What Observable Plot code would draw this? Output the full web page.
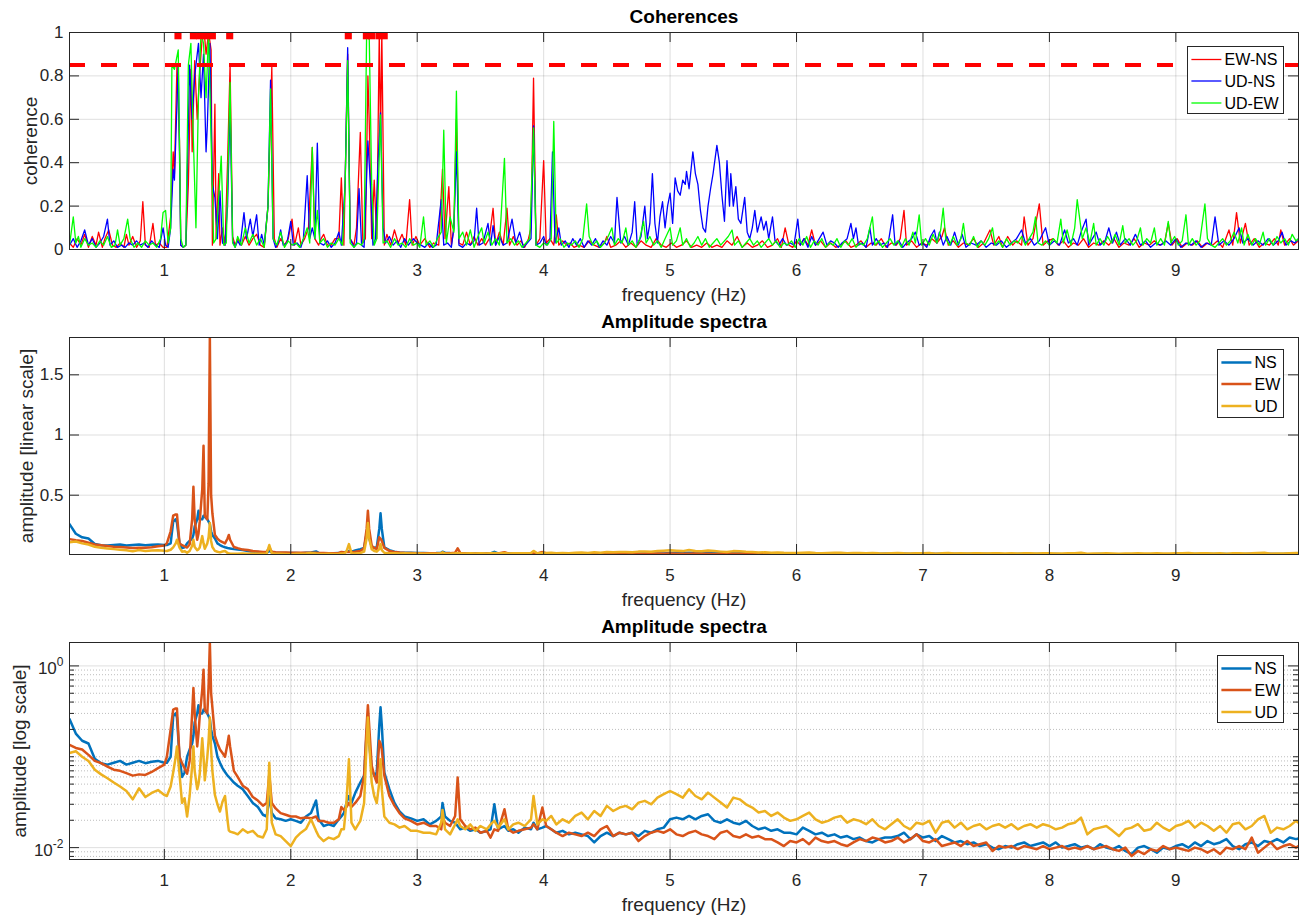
<!DOCTYPE html>
<html>
<head>
<meta charset="utf-8">
<script src="https://cdn.jsdelivr.net/npm/d3@7"></script>
<script src="https://cdn.jsdelivr.net/npm/@observablehq/plot@0.6"></script>
<style>
html,body{margin:0;padding:0;background:#fff;overflow:hidden;}
#wrap{position:relative;width:1303px;height:915px;font-family:"Liberation Sans",Arial,Helvetica,sans-serif;}
</style>
</head>
<body>
<div id="wrap"></div>
<script>
// ---------- axes / ticks ----------
const xTicks = [1,2,3,4,5,6,7,8,9];
const xDomain = [0.25, 9.97];
const cohTicks = [0,0.2,0.4,0.6,0.8,1];
const linTicks = [0.5,1,1.5];
const logMajor = [0.01,1];
const logMinor = [0.008,0.009,0.02,0.03,0.04,0.05,0.06,0.07,0.08,0.09,0.1,0.2,0.3,0.4,0.5,0.6,0.7,0.8,0.9];
const ampDomain = [0.0074,1.81];

// ---------- coherence panel ----------
const cohLabels = ["EW-NS","UD-NS","UD-EW"];
const cohColors = ["#ff0000","#0000ff","#00ff00"];
const cohThreshold = 0.85;
const cohMarkerFreq = [1.108,1.23,1.28,1.33,1.38,1.517,2.455,2.598,2.638,2.697,2.739];
const cohMarkerLevel = 0.985;

const cohEWNS = [[0.25,0.03],[0.28,0.01],[0.31,0.05],[0.34,0.02],[0.37,0.07],[0.4,0.01],[0.43,0.06],[0.46,0.02],[0.48,0.08],[0.51,0.01],[0.53,0.05],[0.56,0.09],[0.59,0.02],[0.62,0.01],[0.65,0.03],[0.68,0.01],[0.7,0.07],[0.72,0.02],[0.75,0.06],[0.78,0.01],[0.81,0.04],[0.83,0.22],[0.85,0.02],[0.88,0.01],[0.91,0.12],[0.93,0.02],[0.96,0.03],[0.99,0.01],[1.02,0.01],[1.05,0.15],[1.07,0.45],[1.08,0.35],[1.1,0.85],[1.12,0.5],[1.13,0.02],[1.15,0.01],[1.17,0.02],[1.19,0.3],[1.21,0.83],[1.22,0.45],[1.24,0.87],[1.26,0.6],[1.28,0.82],[1.3,0.98],[1.32,0.97],[1.33,0.9],[1.35,1],[1.37,0.92],[1.38,0.02],[1.4,0.67],[1.41,0.05],[1.43,0.35],[1.44,0.02],[1.46,0.1],[1.48,0.02],[1.5,0.4],[1.52,0.85],[1.54,0.06],[1.56,0.02],[1.58,0.05],[1.61,0.02],[1.64,0.06],[1.67,0.02],[1.7,0.05],[1.73,0.07],[1.76,0.02],[1.79,0.01],[1.82,0.2],[1.85,0.84],[1.87,0.05],[1.89,0.01],[1.92,0.05],[1.95,0.02],[1.98,0.05],[2.01,0.14],[2.03,0.02],[2.06,0.1],[2.08,0.02],[2.11,0.05],[2.14,0.1],[2.17,0.47],[2.19,0.05],[2.22,0.02],[2.24,0.05],[2.26,0.07],[2.29,0.02],[2.32,0.02],[2.35,0.05],[2.38,0.05],[2.4,0.33],[2.42,0.02],[2.45,0.9],[2.47,0.05],[2.5,0.02],[2.52,0.1],[2.55,0.54],[2.57,0.03],[2.59,0.05],[2.61,0.8],[2.62,0.6],[2.64,0.05],[2.66,0.32],[2.68,0.05],[2.7,1],[2.71,0.5],[2.72,1],[2.74,0.02],[2.76,0.07],[2.79,0.02],[2.82,0.09],[2.85,0.03],[2.88,0.07],[2.91,0.02],[2.94,0.23],[2.96,0.02],[2.99,0.06],[3.02,0.02],[3.06,0.05],[3.1,0.01],[3.13,0.03],[3.17,0.02],[3.2,0.37],[3.22,0.05],[3.25,0.29],[3.27,0.02],[3.29,0.1],[3.31,0.6],[3.33,0.03],[3.36,0.02],[3.39,0.08],[3.42,0.02],[3.45,0.06],[3.48,0.02],[3.51,0.05],[3.54,0.02],[3.57,0.05],[3.6,0.19],[3.62,0.02],[3.65,0.08],[3.68,0.02],[3.71,0.19],[3.73,0.02],[3.76,0.06],[3.79,0.02],[3.82,0.04],[3.85,0.01],[3.88,0.05],[3.9,0.1],[3.92,0.79],[3.94,0.02],[3.97,0.05],[4,0.41],[4.02,0.03],[4.05,0.05],[4.08,0.02],[4.1,0.16],[4.12,0.02],[4.15,0.04],[4.18,0.02],[4.21,0.03],[4.24,0.01],[4.28,0.02],[4.32,0.01],[4.36,0.04],[4.4,0.02],[4.44,0.01],[4.48,0.03],[4.5,0.06],[4.53,0.01],[4.57,0.02],[4.61,0.04],[4.65,0.01],[4.69,0.03],[4.73,0.01],[4.77,0.04],[4.81,0.02],[4.85,0.01],[4.89,0.05],[4.93,0.02],[4.97,0.01],[5.01,0.03],[5.05,0.01],[5.09,0.02],[5.13,0.04],[5.17,0.01],[5.21,0.02],[5.25,0.01],[5.29,0.03],[5.33,0.01],[5.37,0.02],[5.41,0.01],[5.45,0.04],[5.49,0.02],[5.53,0.06],[5.57,0.01],[5.61,0.03],[5.65,0.01],[5.69,0.02],[5.73,0.04],[5.77,0.01],[5.81,0.02],[5.85,0.05],[5.88,0.01],[5.91,0.1],[5.94,0.02],[5.97,0.01],[6,0.04],[6.03,0.02],[6.06,0.05],[6.09,0.02],[6.12,0.09],[6.15,0.02],[6.19,0.04],[6.23,0.01],[6.27,0.03],[6.31,0.01],[6.35,0.02],[6.39,0.04],[6.43,0.01],[6.47,0.02],[6.51,0.04],[6.55,0.01],[6.59,0.03],[6.63,0.02],[6.67,0.05],[6.71,0.01],[6.75,0.03],[6.79,0.02],[6.82,0.05],[6.85,0.18],[6.87,0.02],[6.91,0.04],[6.95,0.01],[6.99,0.03],[7.03,0.02],[7.07,0.05],[7.11,0.03],[7.15,0.06],[7.17,0.1],[7.2,0.02],[7.24,0.04],[7.28,0.01],[7.32,0.03],[7.36,0.02],[7.4,0.05],[7.44,0.01],[7.48,0.03],[7.53,0.09],[7.56,0.02],[7.6,0.06],[7.63,0.01],[7.67,0.06],[7.71,0.02],[7.74,0.04],[7.78,0.02],[7.8,0.15],[7.83,0.02],[7.87,0.05],[7.92,0.21],[7.95,0.02],[7.99,0.04],[8.03,0.05],[8.07,0.02],[8.11,0.04],[8.15,0.01],[8.19,0.03],[8.23,0.02],[8.27,0.05],[8.31,0.01],[8.35,0.03],[8.39,0.02],[8.43,0.04],[8.47,0.02],[8.51,0.05],[8.55,0.01],[8.59,0.03],[8.63,0.02],[8.67,0.05],[8.71,0.01],[8.75,0.03],[8.79,0.02],[8.83,0.04],[8.87,0.02],[8.91,0.03],[8.94,0.12],[8.97,0.02],[9.01,0.05],[9.05,0.01],[9.09,0.03],[9.13,0.02],[9.17,0.04],[9.21,0.01],[9.25,0.03],[9.29,0.02],[9.33,0.04],[9.37,0.01],[9.42,0.09],[9.45,0.02],[9.48,0.17],[9.51,0.03],[9.55,0.12],[9.58,0.02],[9.62,0.05],[9.66,0.01],[9.7,0.03],[9.74,0.02],[9.78,0.05],[9.81,0.02],[9.83,0.09],[9.86,0.02],[9.9,0.05],[9.93,0.02],[9.97,0.04]];

const cohUDNS = [[0.25,0.02],[0.28,0.05],[0.31,0.01],[0.34,0.04],[0.37,0.09],[0.4,0.02],[0.43,0.05],[0.46,0.01],[0.49,0.03],[0.52,0.06],[0.55,0.14],[0.57,0.02],[0.6,0.04],[0.63,0.01],[0.66,0.02],[0.69,0.01],[0.72,0.03],[0.75,0.02],[0.78,0.04],[0.81,0.02],[0.84,0.03],[0.87,0.01],[0.9,0.04],[0.93,0.02],[0.96,0.01],[0.99,0.1],[1.01,0.02],[1.03,0.01],[1.05,0.1],[1.07,0.37],[1.08,0.32],[1.11,0.85],[1.13,0.02],[1.15,0.01],[1.17,0.02],[1.2,0.85],[1.22,0.6],[1.24,0.8],[1.27,0.95],[1.29,0.7],[1.31,0.9],[1.33,0.45],[1.34,0.57],[1.36,0.95],[1.38,0.3],[1.4,0.24],[1.42,0.05],[1.44,0.27],[1.46,0.03],[1.48,0.02],[1.5,0.2],[1.52,0.66],[1.54,0.04],[1.56,0.01],[1.58,0.04],[1.6,0.02],[1.63,0.17],[1.65,0.05],[1.68,0.14],[1.7,0.06],[1.73,0.16],[1.75,0.02],[1.77,0.07],[1.79,0.02],[1.82,0.2],[1.84,0.78],[1.86,0.05],[1.88,0.01],[1.9,0.03],[1.92,0.09],[1.94,0.02],[1.97,0.03],[2,0.13],[2.02,0.02],[2.05,0.03],[2.08,0.01],[2.1,0.05],[2.13,0.34],[2.15,0.05],[2.17,0.1],[2.19,0.05],[2.21,0.49],[2.23,0.03],[2.26,0.02],[2.29,0.04],[2.32,0.01],[2.35,0.03],[2.38,0.08],[2.4,0.02],[2.43,0.3],[2.45,0.93],[2.47,0.05],[2.5,0.01],[2.52,0.03],[2.54,0.28],[2.56,0.02],[2.58,0.01],[2.61,0.5],[2.63,0.3],[2.65,0.02],[2.67,0.05],[2.69,0.4],[2.71,0.63],[2.73,0.1],[2.75,0.03],[2.78,0.06],[2.81,0.02],[2.84,0.04],[2.87,0.01],[2.9,0.05],[2.93,0.02],[2.97,0.05],[3,0.03],[3.03,0.02],[3.06,0.01],[3.09,0.03],[3.12,0.01],[3.15,0.02],[3.19,0.23],[3.21,0.02],[3.24,0.03],[3.27,0.01],[3.29,0.1],[3.31,0.45],[3.33,0.02],[3.36,0.01],[3.39,0.03],[3.42,0.02],[3.45,0.04],[3.47,0.19],[3.49,0.02],[3.52,0.03],[3.56,0.12],[3.58,0.02],[3.6,0.11],[3.62,0.02],[3.65,0.06],[3.68,0.02],[3.71,0.03],[3.75,0.14],[3.78,0.03],[3.81,0.08],[3.84,0.01],[3.87,0.03],[3.9,0.05],[3.92,0.57],[3.94,0.02],[3.97,0.03],[4,0.06],[4.02,0.02],[4.05,0.04],[4.07,0.45],[4.09,0.03],[4.12,0.1],[4.14,0.02],[4.17,0.04],[4.2,0.01],[4.23,0.05],[4.26,0.02],[4.29,0.05],[4.32,0.01],[4.35,0.04],[4.38,0.02],[4.41,0.05],[4.44,0.01],[4.47,0.04],[4.5,0.02],[4.53,0.06],[4.56,0.03],[4.58,0.24],[4.61,0.03],[4.64,0.06],[4.67,0.02],[4.7,0.08],[4.72,0.22],[4.74,0.02],[4.77,0.06],[4.8,0.2],[4.82,0.05],[4.84,0.12],[4.86,0.35],[4.88,0.12],[4.9,0.03],[4.92,0.15],[4.94,0.22],[4.96,0.1],[4.98,0.2],[5,0.26],[5.02,0.12],[5.04,0.33],[5.06,0.27],[5.08,0.25],[5.1,0.32],[5.12,0.3],[5.13,0.36],[5.15,0.28],[5.18,0.45],[5.2,0.35],[5.22,0.3],[5.24,0.18],[5.26,0.1],[5.28,0.08],[5.3,0.2],[5.32,0.28],[5.34,0.35],[5.37,0.48],[5.39,0.4],[5.41,0.25],[5.43,0.13],[5.45,0.41],[5.47,0.2],[5.48,0.35],[5.5,0.2],[5.52,0.29],[5.54,0.14],[5.56,0.12],[5.59,0.24],[5.61,0.08],[5.63,0.05],[5.65,0.1],[5.67,0.18],[5.69,0.08],[5.72,0.15],[5.74,0.09],[5.76,0.13],[5.78,0.05],[5.81,0.15],[5.83,0.04],[5.86,0.02],[5.89,0.05],[5.92,0.02],[5.95,0.03],[5.98,0.02],[6.01,0.14],[6.03,0.02],[6.06,0.05],[6.09,0.01],[6.12,0.06],[6.15,0.02],[6.18,0.05],[6.21,0.08],[6.24,0.02],[6.27,0.04],[6.3,0.03],[6.33,0.01],[6.36,0.03],[6.4,0.05],[6.43,0.12],[6.45,0.05],[6.47,0.1],[6.49,0.02],[6.52,0.03],[6.55,0.01],[6.58,0.1],[6.6,0.02],[6.63,0.05],[6.66,0.02],[6.69,0.03],[6.72,0.01],[6.76,0.16],[6.78,0.02],[6.81,0.04],[6.84,0.01],[6.87,0.03],[6.91,0.05],[6.94,0.08],[6.97,0.02],[7,0.03],[7.03,0.01],[7.06,0.06],[7.09,0.09],[7.11,0.03],[7.13,0.08],[7.16,0.02],[7.19,0.06],[7.22,0.02],[7.25,0.08],[7.28,0.02],[7.31,0.07],[7.34,0.01],[7.38,0.03],[7.42,0.02],[7.46,0.04],[7.5,0.01],[7.54,0.03],[7.58,0.02],[7.62,0.04],[7.66,0.01],[7.7,0.03],[7.74,0.05],[7.78,0.09],[7.81,0.03],[7.85,0.05],[7.88,0.02],[7.92,0.04],[7.97,0.1],[8,0.02],[8.04,0.04],[8.08,0.02],[8.12,0.09],[8.15,0.03],[8.19,0.05],[8.22,0.02],[8.25,0.08],[8.29,0.14],[8.31,0.02],[8.34,0.05],[8.37,0.08],[8.4,0.02],[8.44,0.04],[8.47,0.1],[8.5,0.03],[8.53,0.08],[8.56,0.02],[8.6,0.05],[8.64,0.02],[8.68,0.07],[8.72,0.02],[8.76,0.04],[8.8,0.01],[8.84,0.03],[8.88,0.02],[8.92,0.04],[8.96,0.02],[9,0.05],[9.04,0.01],[9.08,0.03],[9.12,0.02],[9.16,0.04],[9.2,0.01],[9.24,0.03],[9.28,0.02],[9.31,0.15],[9.34,0.02],[9.38,0.04],[9.42,0.02],[9.46,0.05],[9.5,0.1],[9.53,0.03],[9.57,0.05],[9.61,0.02],[9.65,0.04],[9.69,0.02],[9.73,0.05],[9.77,0.02],[9.81,0.04],[9.84,0.08],[9.87,0.02],[9.91,0.04],[9.94,0.03],[9.97,0.05]];

const cohUDEW = [[0.25,0.02],[0.28,0.15],[0.3,0.03],[0.32,0.06],[0.34,0.01],[0.37,0.05],[0.4,0.02],[0.43,0.03],[0.46,0.01],[0.49,0.04],[0.52,0.02],[0.55,0.06],[0.58,0.01],[0.61,0.02],[0.63,0.09],[0.65,0.02],[0.68,0.05],[0.71,0.14],[0.73,0.05],[0.76,0.01],[0.79,0.03],[0.82,0.01],[0.85,0.04],[0.88,0.02],[0.91,0.03],[0.94,0.01],[0.97,0.05],[0.99,0.17],[1.01,0.18],[1.03,0.03],[1.05,0.1],[1.06,0.85],[1.08,0.83],[1.11,0.92],[1.13,0.05],[1.15,0.01],[1.17,0.02],[1.19,0.85],[1.21,0.95],[1.23,0.5],[1.25,0.1],[1.27,0.7],[1.29,1],[1.31,0.95],[1.33,0.7],[1.35,1],[1.37,0.5],[1.39,0.03],[1.41,0.05],[1.45,0.43],[1.47,0.02],[1.49,0.03],[1.52,0.77],[1.54,0.03],[1.56,0.01],[1.58,0.06],[1.61,0.02],[1.64,0.1],[1.67,0.03],[1.7,0.07],[1.73,0.02],[1.76,0.05],[1.79,0.01],[1.82,0.2],[1.84,0.74],[1.86,0.05],[1.89,0.02],[1.92,0.08],[1.95,0.01],[1.98,0.04],[2.01,0.02],[2.04,0.03],[2.07,0.01],[2.1,0.05],[2.13,0.1],[2.15,0.03],[2.17,0.47],[2.19,0.05],[2.21,0.18],[2.23,0.03],[2.26,0.05],[2.29,0.01],[2.32,0.03],[2.35,0.02],[2.38,0.05],[2.41,0.02],[2.43,0.3],[2.45,0.87],[2.47,0.03],[2.5,0.01],[2.53,0.03],[2.56,0.02],[2.58,0.05],[2.6,1],[2.62,1],[2.64,0.3],[2.66,0.02],[2.68,0.05],[2.71,0.62],[2.73,0.03],[2.76,0.04],[2.79,0.01],[2.82,0.05],[2.85,0.02],[2.88,0.03],[2.91,0.01],[2.94,0.05],[2.97,0.02],[3,0.03],[3.02,0.01],[3.05,0.15],[3.07,0.02],[3.1,0.04],[3.13,0.01],[3.16,0.05],[3.19,0.08],[3.21,0.55],[3.23,0.03],[3.26,0.15],[3.29,0.08],[3.31,0.73],[3.33,0.05],[3.36,0.08],[3.39,0.02],[3.42,0.09],[3.45,0.01],[3.48,0.06],[3.51,0.1],[3.53,0.03],[3.56,0.08],[3.59,0.02],[3.62,0.05],[3.65,0.02],[3.69,0.42],[3.71,0.03],[3.74,0.05],[3.77,0.02],[3.8,0.04],[3.83,0.01],[3.86,0.03],[3.89,0.05],[3.92,0.56],[3.94,0.02],[3.97,0.01],[4,0.03],[4.03,0.02],[4.06,0.05],[4.08,0.59],[4.1,0.03],[4.13,0.05],[4.16,0.01],[4.19,0.03],[4.22,0.02],[4.25,0.04],[4.28,0.01],[4.31,0.05],[4.34,0.21],[4.36,0.06],[4.39,0.02],[4.42,0.04],[4.45,0.01],[4.48,0.03],[4.51,0.06],[4.54,0.1],[4.56,0.02],[4.59,0.05],[4.62,0.03],[4.65,0.1],[4.67,0.02],[4.7,0.04],[4.73,0.01],[4.76,0.05],[4.79,0.13],[4.81,0.03],[4.84,0.06],[4.87,0.02],[4.9,0.04],[4.93,0.01],[4.96,0.05],[5,0.1],[5.02,0.02],[5.05,0.04],[5.08,0.1],[5.1,0.02],[5.13,0.05],[5.16,0.01],[5.19,0.03],[5.22,0.06],[5.25,0.02],[5.28,0.05],[5.31,0.01],[5.34,0.03],[5.37,0.05],[5.4,0.02],[5.43,0.04],[5.46,0.06],[5.49,0.09],[5.51,0.02],[5.54,0.04],[5.57,0.01],[5.6,0.03],[5.63,0.05],[5.66,0.02],[5.69,0.04],[5.72,0.01],[5.75,0.03],[5.78,0.05],[5.81,0.02],[5.84,0.04],[5.87,0.01],[5.9,0.03],[5.93,0.02],[5.96,0.04],[5.99,0.01],[6.02,0.05],[6.05,0.02],[6.08,0.06],[6.11,0.01],[6.14,0.04],[6.17,0.02],[6.2,0.05],[6.23,0.01],[6.26,0.03],[6.29,0.02],[6.32,0.05],[6.35,0.01],[6.38,0.04],[6.41,0.02],[6.44,0.05],[6.47,0.01],[6.5,0.03],[6.53,0.02],[6.56,0.05],[6.6,0.15],[6.62,0.02],[6.65,0.04],[6.68,0.01],[6.71,0.03],[6.74,0.05],[6.77,0.02],[6.8,0.04],[6.83,0.01],[6.86,0.05],[6.89,0.02],[6.92,0.08],[6.94,0.03],[6.97,0.16],[6.99,0.02],[7.02,0.05],[7.05,0.02],[7.08,0.07],[7.11,0.03],[7.14,0.09],[7.16,0.19],[7.18,0.05],[7.21,0.02],[7.24,0.06],[7.27,0.02],[7.3,0.05],[7.32,0.12],[7.34,0.03],[7.37,0.02],[7.4,0.06],[7.43,0.01],[7.46,0.04],[7.49,0.02],[7.52,0.05],[7.55,0.1],[7.57,0.02],[7.6,0.04],[7.63,0.01],[7.66,0.05],[7.69,0.02],[7.72,0.04],[7.75,0.03],[7.78,0.06],[7.81,0.02],[7.84,0.05],[7.87,0.08],[7.89,0.15],[7.91,0.03],[7.94,0.02],[7.97,0.04],[8,0.02],[8.03,0.05],[8.06,0.03],[8.09,0.14],[8.11,0.03],[8.14,0.09],[8.17,0.02],[8.2,0.1],[8.22,0.23],[8.24,0.14],[8.26,0.05],[8.29,0.1],[8.32,0.03],[8.35,0.12],[8.37,0.02],[8.4,0.05],[8.43,0.02],[8.46,0.06],[8.49,0.03],[8.52,0.07],[8.55,0.02],[8.58,0.11],[8.6,0.03],[8.63,0.05],[8.66,0.02],[8.69,0.04],[8.72,0.1],[8.74,0.02],[8.77,0.05],[8.8,0.03],[8.83,0.1],[8.85,0.02],[8.88,0.05],[8.91,0.02],[8.94,0.13],[8.96,0.03],[8.99,0.06],[9.02,0.02],[9.05,0.04],[9.08,0.16],[9.1,0.02],[9.13,0.05],[9.16,0.02],[9.19,0.04],[9.23,0.21],[9.25,0.05],[9.28,0.02],[9.31,0.01],[9.34,0.03],[9.37,0.05],[9.4,0.02],[9.43,0.04],[9.46,0.08],[9.49,0.03],[9.52,0.1],[9.54,0.02],[9.57,0.07],[9.6,0.02],[9.63,0.05],[9.66,0.02],[9.69,0.08],[9.71,0.02],[9.74,0.05],[9.77,0.02],[9.8,0.06],[9.83,0.03],[9.86,0.05],[9.89,0.02],[9.92,0.07],[9.95,0.04],[9.97,0.05]];

// ---------- amplitude spectra ----------
const compLabels = ["NS","EW","UD"];
const compColors = ["#0072BD","#D95319","#EDB120"];

const specFreq = [
 0.25,0.3,0.35,0.4,0.45,0.5,0.55,0.6,0.65,0.7,0.75,0.8,0.85,0.9,0.95,1.0,
 1.02,1.05,1.07,1.09,1.1,1.12,1.14,1.16,1.18,1.2,1.22,1.23,1.24,1.26,1.27,1.28,1.3,1.31,1.32,1.34,1.35,1.36,1.37,1.38,1.4,1.42,1.44,1.46,1.48,1.5,1.51,1.52,1.55,1.58,
 1.62,1.66,1.7,1.74,1.78,1.81,1.83,1.85,1.88,1.92,1.96,2,2.04,2.08,2.12,2.16,2.2,2.22,2.26,2.3,2.34,2.38,2.4,2.42,2.44,2.46,2.48,2.51,2.55,2.58,2.6,2.61,2.62,2.64,2.66,2.68,2.7,2.71,2.72,2.74,2.78,2.82,2.86,2.9,2.95,3,3.05,3.1,3.15,3.19,3.2,3.22,3.26,
 3.3,3.32,3.34,3.38,3.42,3.46,3.5,3.55,3.58,3.61,3.64,3.69,3.72,3.76,3.8,3.85,3.9,3.92,3.95,3.99,4.02,4.06,4.1,
 4.15,4.2,4.25,4.3,4.35,4.4,4.45,4.5,4.55,4.6,4.65,4.7,4.75,4.8,4.85,4.9,4.95,5,5.05,5.1,5.15,5.2,5.25,5.3,5.35,5.4,5.45,5.5,5.55,5.6,5.65,5.7,5.75,5.8,5.85,5.9,5.95,6,6.05,6.1,6.15,6.2,6.25,6.3,6.35,6.4,6.45,6.5,6.55,6.6,6.65,6.7,
 6.75,6.8,6.85,6.9,6.95,7,7.05,7.1,7.15,7.2,7.25,7.3,7.35,7.4,7.45,7.5,7.55,7.6,7.65,7.7,7.75,7.8,7.85,7.9,7.95,8,8.05,8.1,8.15,8.2,8.25,8.3,8.35,8.4,8.45,8.5,8.55,8.6,8.65,8.7,8.75,8.8,8.85,8.9,8.95,9,9.05,9.1,9.15,9.2,9.25,9.3,9.35,9.4,9.45,9.5,9.55,9.6,9.65,9.7,9.75,9.8,9.85,9.9,9.95,9.97
];

const ampNS = [
 0.26,0.18,0.15,0.14,0.095,0.085,0.082,0.086,0.09,0.082,0.086,0.09,0.085,0.088,0.09,0.086,
 0.086,0.1,0.28,0.3,0.27,0.1,0.06,0.067,0.1,0.12,0.14,0.17,0.24,0.3,0.37,0.3,0.3,0.33,0.32,0.3,0.28,0.26,0.2,0.17,0.14,0.1,0.086,0.075,0.068,0.062,0.06,0.058,0.052,0.048,
 0.044,0.037,0.031,0.028,0.023,0.022,0.037,0.024,0.021,0.0205,0.0197,0.0205,0.0197,0.0188,0.022,0.024,0.033,0.0205,0.0173,0.018,0.0173,0.0205,0.022,0.024,0.031,0.037,0.031,0.04,0.052,0.062,0.185,0.24,0.143,0.073,0.062,0.067,0.22,0.35,0.22,0.067,0.044,0.031,0.025,0.022,0.021,0.0197,0.0205,0.018,0.0197,0.022,0.031,0.022,0.0197,
 0.0188,0.0173,0.0159,0.0166,0.0153,0.0159,0.0146,0.0153,0.0159,0.03,0.0159,0.0173,0.0153,0.0159,0.0146,0.0166,0.0159,0.0188,0.0159,0.0166,0.0173,0.0159,0.0146,
 0.0153,0.014,0.0146,0.014,0.0134,0.0114,0.0134,0.0146,0.0134,0.0146,0.014,0.0146,0.0134,0.0153,0.0146,0.0159,0.0166,0.0205,0.0214,0.0205,0.0223,0.0205,0.0223,0.0233,0.0197,0.0188,0.0205,0.0188,0.0181,0.0197,0.0173,0.0159,0.0166,0.0153,0.0159,0.0146,0.0146,0.014,0.0166,0.0153,0.014,0.0146,0.0134,0.014,0.0129,0.0134,0.0124,0.0129,0.0118,0.0114,0.0124,0.0129,
 0.0129,0.0134,0.0146,0.0124,0.014,0.0129,0.0134,0.0118,0.0134,0.0124,0.0114,0.0118,0.0109,0.0114,0.0104,0.0109,0.01,0.0096,0.0104,0.01,0.0109,0.0114,0.0104,0.0109,0.0114,0.0104,0.0114,0.01,0.0104,0.0109,0.01,0.0104,0.0096,0.0109,0.01,0.0096,0.0104,0.0092,0.0085,0.01,0.0104,0.0096,0.0088,0.01,0.0096,0.0104,0.0109,0.01,0.0114,0.0104,0.0118,0.0109,0.0114,0.0124,0.0104,0.0096,0.0109,0.0114,0.0104,0.0118,0.0114,0.0124,0.0114,0.0129,0.0124,0.0126
];

const ampEW = [
 0.135,0.125,0.12,0.105,0.09,0.085,0.078,0.072,0.07,0.066,0.062,0.064,0.063,0.068,0.075,0.082,
 0.1,0.2,0.33,0.34,0.34,0.1,0.085,0.075,0.065,0.09,0.3,0.57,0.3,0.13,0.18,0.28,0.55,0.91,0.33,0.3,0.6,1.81,0.5,0.35,0.17,0.14,0.12,0.11,0.1,0.14,0.17,0.13,0.07,0.06,
 0.048,0.044,0.036,0.033,0.029,0.031,0.064,0.031,0.027,0.024,0.023,0.022,0.022,0.021,0.0215,0.021,0.022,0.0196,0.0196,0.0188,0.0188,0.0205,0.028,0.026,0.028,0.031,0.028,0.031,0.037,0.062,0.22,0.37,0.22,0.08,0.062,0.052,0.15,0.14,0.12,0.062,0.037,0.029,0.024,0.021,0.0197,0.018,0.0188,0.0173,0.0173,0.0159,0.022,0.0188,0.0173,
 0.0223,0.059,0.0205,0.0173,0.0159,0.0166,0.0146,0.0153,0.0129,0.0159,0.0153,0.0264,0.0159,0.0146,0.0153,0.0159,0.0166,0.0181,0.0159,0.0276,0.0173,0.0159,0.0146,
 0.0134,0.0146,0.014,0.0134,0.0146,0.0134,0.0159,0.0173,0.0134,0.0146,0.014,0.0146,0.0118,0.0134,0.0146,0.0153,0.0146,0.0159,0.014,0.0134,0.0146,0.0153,0.014,0.0134,0.0124,0.0146,0.0153,0.0134,0.0129,0.014,0.0129,0.0134,0.0124,0.0124,0.0114,0.0104,0.0118,0.0114,0.0124,0.0109,0.0129,0.0118,0.0114,0.0118,0.0109,0.0104,0.0114,0.0124,0.0118,0.0129,0.0124,0.0114,
 0.0118,0.0129,0.0114,0.0124,0.014,0.0118,0.0114,0.0124,0.0104,0.0109,0.0114,0.0104,0.0118,0.0104,0.0109,0.0114,0.0092,0.0104,0.01,0.0104,0.0096,0.0104,0.01,0.0096,0.0104,0.0096,0.01,0.0104,0.0096,0.01,0.0096,0.0104,0.0096,0.01,0.0104,0.0096,0.0092,0.01,0.0081,0.0092,0.0085,0.0096,0.0092,0.0104,0.0096,0.01,0.0096,0.0092,0.01,0.0096,0.0088,0.0096,0.0085,0.01,0.0096,0.0104,0.0096,0.0129,0.0088,0.01,0.0114,0.0096,0.0104,0.0109,0.01,0.0104
];

const ampUD = [
 0.11,0.115,0.1,0.09,0.072,0.064,0.058,0.052,0.047,0.042,0.034,0.045,0.036,0.04,0.043,0.038,
 0.037,0.047,0.067,0.1,0.13,0.065,0.031,0.035,0.022,0.037,0.08,0.13,0.07,0.044,0.05,0.065,0.16,0.1,0.055,0.1,0.15,0.27,0.12,0.07,0.038,0.03,0.025,0.032,0.037,0.02,0.0155,0.015,0.0146,0.014,
 0.0159,0.0146,0.0153,0.0134,0.0129,0.0159,0.086,0.0188,0.014,0.0134,0.0118,0.0104,0.0129,0.0146,0.016,0.0205,0.0153,0.0134,0.0118,0.0129,0.0124,0.0134,0.0159,0.0159,0.031,0.094,0.0188,0.0159,0.0197,0.031,0.143,0.27,0.143,0.052,0.037,0.031,0.052,0.094,0.044,0.022,0.0188,0.018,0.0166,0.0173,0.0153,0.0153,0.0146,0.0146,0.014,0.0188,0.026,0.0159,0.014,
 0.018,0.0205,0.0173,0.0159,0.018,0.0153,0.0173,0.0159,0.018,0.0197,0.0166,0.0205,0.0159,0.018,0.0188,0.0173,0.0205,0.037,0.018,0.0205,0.0197,0.0223,0.018,
 0.0205,0.0188,0.0223,0.0243,0.0205,0.0253,0.0223,0.0288,0.0253,0.0276,0.0288,0.0264,0.0313,0.0327,0.03,0.0355,0.0387,0.042,0.0387,0.0355,0.0439,0.037,0.034,0.0403,0.0355,0.0313,0.0276,0.0355,0.034,0.03,0.0276,0.0243,0.0253,0.0223,0.0243,0.0214,0.0197,0.0205,0.0223,0.0243,0.0205,0.0188,0.0197,0.0214,0.0223,0.0188,0.0205,0.0197,0.0181,0.0205,0.0173,0.0159,
 0.0181,0.0205,0.0173,0.0159,0.0188,0.0181,0.0197,0.0146,0.0188,0.0197,0.0166,0.0188,0.0159,0.0173,0.0181,0.0159,0.0173,0.0181,0.0166,0.0181,0.0159,0.0173,0.0181,0.0166,0.0181,0.0173,0.0159,0.0166,0.0181,0.0188,0.0214,0.014,0.0159,0.0166,0.0173,0.0153,0.0134,0.0159,0.0166,0.0181,0.0153,0.0159,0.0188,0.0166,0.0153,0.0173,0.0181,0.0197,0.0166,0.0188,0.0173,0.0153,0.0173,0.0146,0.0181,0.0188,0.0159,0.0173,0.0205,0.0223,0.0146,0.0166,0.0159,0.0173,0.0197,0.0188
];

// ---------- layout ----------
const FONT = '"Liberation Sans", Arial, Helvetica, sans-serif';
const AX = "#262626";
const W = 1303, H = 305, ML = 69, MR = 5, MT = 32, MB = 56;
const IW = W - ML - MR, IH = H - MT - MB;
const TK = 10, TKm = 5;
const wrap = document.getElementById("wrap");

const spec = specFreq.map((f, i) => ({f, ns: ampNS[i], ew: ampEW[i], ud: ampUD[i]}))
  .filter(d => d.ns != null && d.ew != null && d.ud != null);
if (spec.length !== specFreq.length) console.warn("length mismatch", specFreq.length, ampNS.length, ampEW.length, ampUD.length);

function gridMarks(yTicks) {
  return [
    Plot.gridX(xTicks, {stroke: AX, strokeOpacity: 0.15, strokeWidth: 1}),
    Plot.gridY(yTicks, {stroke: AX, strokeOpacity: 0.15, strokeWidth: 1})
  ];
}

function axesMarks({yTicks, yFmt, title, ylabel, ylabelDx, minorY}) {
  const m = [
    Plot.frame({stroke: AX, strokeWidth: 1}),
    Plot.ruleX(xTicks, {x: d => d, insetTop: IH - TK, stroke: AX}),
    Plot.ruleX(xTicks, {x: d => d, insetBottom: IH - TK, stroke: AX}),
    Plot.ruleY(yTicks, {y: d => d, insetRight: IW - TK, stroke: AX}),
    Plot.ruleY(yTicks, {y: d => d, insetLeft: IW - TK, stroke: AX})
  ];
  if (minorY) {
    m.push(Plot.ruleY(minorY, {y: d => d, insetRight: IW - TKm, stroke: AX}));
    m.push(Plot.ruleY(minorY, {y: d => d, insetLeft: IW - TKm, stroke: AX}));
  }
  m.push(Plot.axisX({ticks: xTicks, tickSize: 0, tickPadding: 14, tickFormat: d => String(d), fontSize: 17, label: null}));
  m.push(Plot.axisY({ticks: yTicks, tickSize: 0, tickPadding: 6, tickFormat: yFmt, fontSize: 17, label: null}));
  m.push(Plot.text([title], {text: d => d, frameAnchor: "top", dy: -15.5, fontSize: 19, fontWeight: "bold", fill: "#000", textAnchor: "middle", lineAnchor: "middle"}));
  m.push(Plot.text(["frequency (Hz)"], {text: d => d, frameAnchor: "bottom", dy: 45, fontSize: 19, fill: AX, textAnchor: "middle", lineAnchor: "middle"}));
  m.push(Plot.text([ylabel], {text: d => d, frameAnchor: "left", dx: ylabelDx, rotate: -90, fontSize: 19, fill: AX, textAnchor: "middle", lineAnchor: "middle"}));
  return m;
}

function place(svg, top) {
  svg.style.position = "absolute";
  svg.style.left = "0px";
  svg.style.top = top + "px";
  wrap.appendChild(svg);
  return svg;
}

const baseOpts = {
  width: W, height: H, marginLeft: ML, marginRight: MR, marginTop: MT, marginBottom: MB,
  x: {domain: xDomain, label: null},
  style: {fontFamily: FONT, fontSize: "17px", color: AX, background: "transparent", overflow: "visible"}
};

// Panel 1: coherences
const cohSeries = [cohEWNS, cohUDNS, cohUDEW];
place(Plot.plot({
  ...baseOpts,
  y: {domain: [0, 1], label: null},
  marks: [
    ...gridMarks(cohTicks),
    ...cohSeries.map((s, k) => Plot.line(s, {x: d => d[0], y: d => d[1], stroke: cohColors[k], strokeWidth: 1.3, clip: true})),
    Plot.ruleY([cohThreshold], {y: d => d, stroke: "#ff0000", strokeWidth: 4, strokeDasharray: "16,16"}),
    Plot.dot(cohMarkerFreq, {x: d => d, y: () => cohMarkerLevel, symbol: "square", r: 4, fill: "#ff0000", stroke: "none"}),
    ...axesMarks({yTicks: cohTicks, yFmt: d => String(d), title: "Coherences", ylabel: "coherence", ylabelDx: -39})
  ]
}), 0);

// Panel 2: linear amplitude
const keys = ["ns", "ew", "ud"];
place(Plot.plot({
  ...baseOpts,
  y: {domain: ampDomain, label: null},
  marks: [
    ...gridMarks(linTicks),
    ...keys.map((k, i) => Plot.line(spec, {x: "f", y: k, stroke: compColors[i], strokeWidth: 2.5, strokeLinejoin: "round", clip: true})),
    ...axesMarks({yTicks: linTicks, yFmt: d => String(d), title: "Amplitude spectra", ylabel: "amplitude [linear scale]", ylabelDx: -43})
  ]
}), 305);

// Panel 3: log amplitude
const p3 = place(Plot.plot({
  ...baseOpts,
  y: {type: "log", domain: ampDomain, label: null},
  marks: [
    Plot.gridX(xTicks, {stroke: AX, strokeOpacity: 0.15}),
    Plot.ruleY(logMinor, {y: d => d, stroke: AX, strokeOpacity: 0.3, strokeDasharray: "1,2"}),
    Plot.ruleY(logMajor, {y: d => d, stroke: AX, strokeOpacity: 0.15}),
    ...keys.map((k, i) => Plot.line(spec, {x: "f", y: k, stroke: compColors[i], strokeWidth: 2.5, strokeLinejoin: "round", clip: true})),
    ...axesMarks({yTicks: logMajor, yFmt: d => "10|" + Math.round(Math.log10(d)), title: "Amplitude spectra", ylabel: "amplitude [log scale]", ylabelDx: -50, minorY: logMinor})
  ]
}), 610);

// superscript exponents on log tick labels
p3.querySelectorAll('[aria-label="y-axis tick label"] text').forEach(t => {
  const parts = t.textContent.split("|");
  if (parts.length !== 2) return;
  const ns = "http://www.w3.org/2000/svg";
  t.textContent = "";
  const a = document.createElementNS(ns, "tspan");
  a.setAttribute("dy", "3"); a.textContent = parts[0];
  const b = document.createElementNS(ns, "tspan");
  b.setAttribute("dy", "-8"); b.setAttribute("font-size", "12"); b.textContent = parts[1];
  t.appendChild(a); t.appendChild(b);
});

// ---------- legends ----------
function legend(left, top, w, h, labels, colors, lw) {
  const s = d3.create("svg").attr("width", w + 2).attr("height", h + 2)
    .style("position", "absolute").style("left", (left - 1) + "px").style("top", (top - 1) + "px");
  s.append("rect").attr("x", 1.5).attr("y", 1.5).attr("width", w - 1).attr("height", h - 1)
    .attr("fill", "#fff").attr("stroke", AX).attr("stroke-width", 1);
  const rows = [13.5, 35, 57];
  labels.forEach((lab, i) => {
    const y = 1 + rows[i];
    s.append("line").attr("x1", 5.4).attr("x2", 35.4).attr("y1", y).attr("y2", y)
      .attr("stroke", colors[i]).attr("stroke-width", lw);
    s.append("text").attr("x", 38.5).attr("y", y).attr("dy", "0.36em")
      .attr("font-family", FONT).attr("font-size", 16).attr("fill", "#000").text(lab);
  });
  wrap.appendChild(s.node());
}
legend(1187, 46, 97, 68, cohLabels, cohColors, 1.3);
legend(1217, 349, 67, 69, compLabels, compColors, 2.5);
legend(1217, 655, 67, 68, compLabels, compColors, 2.5);
</script>
</body>
</html>
